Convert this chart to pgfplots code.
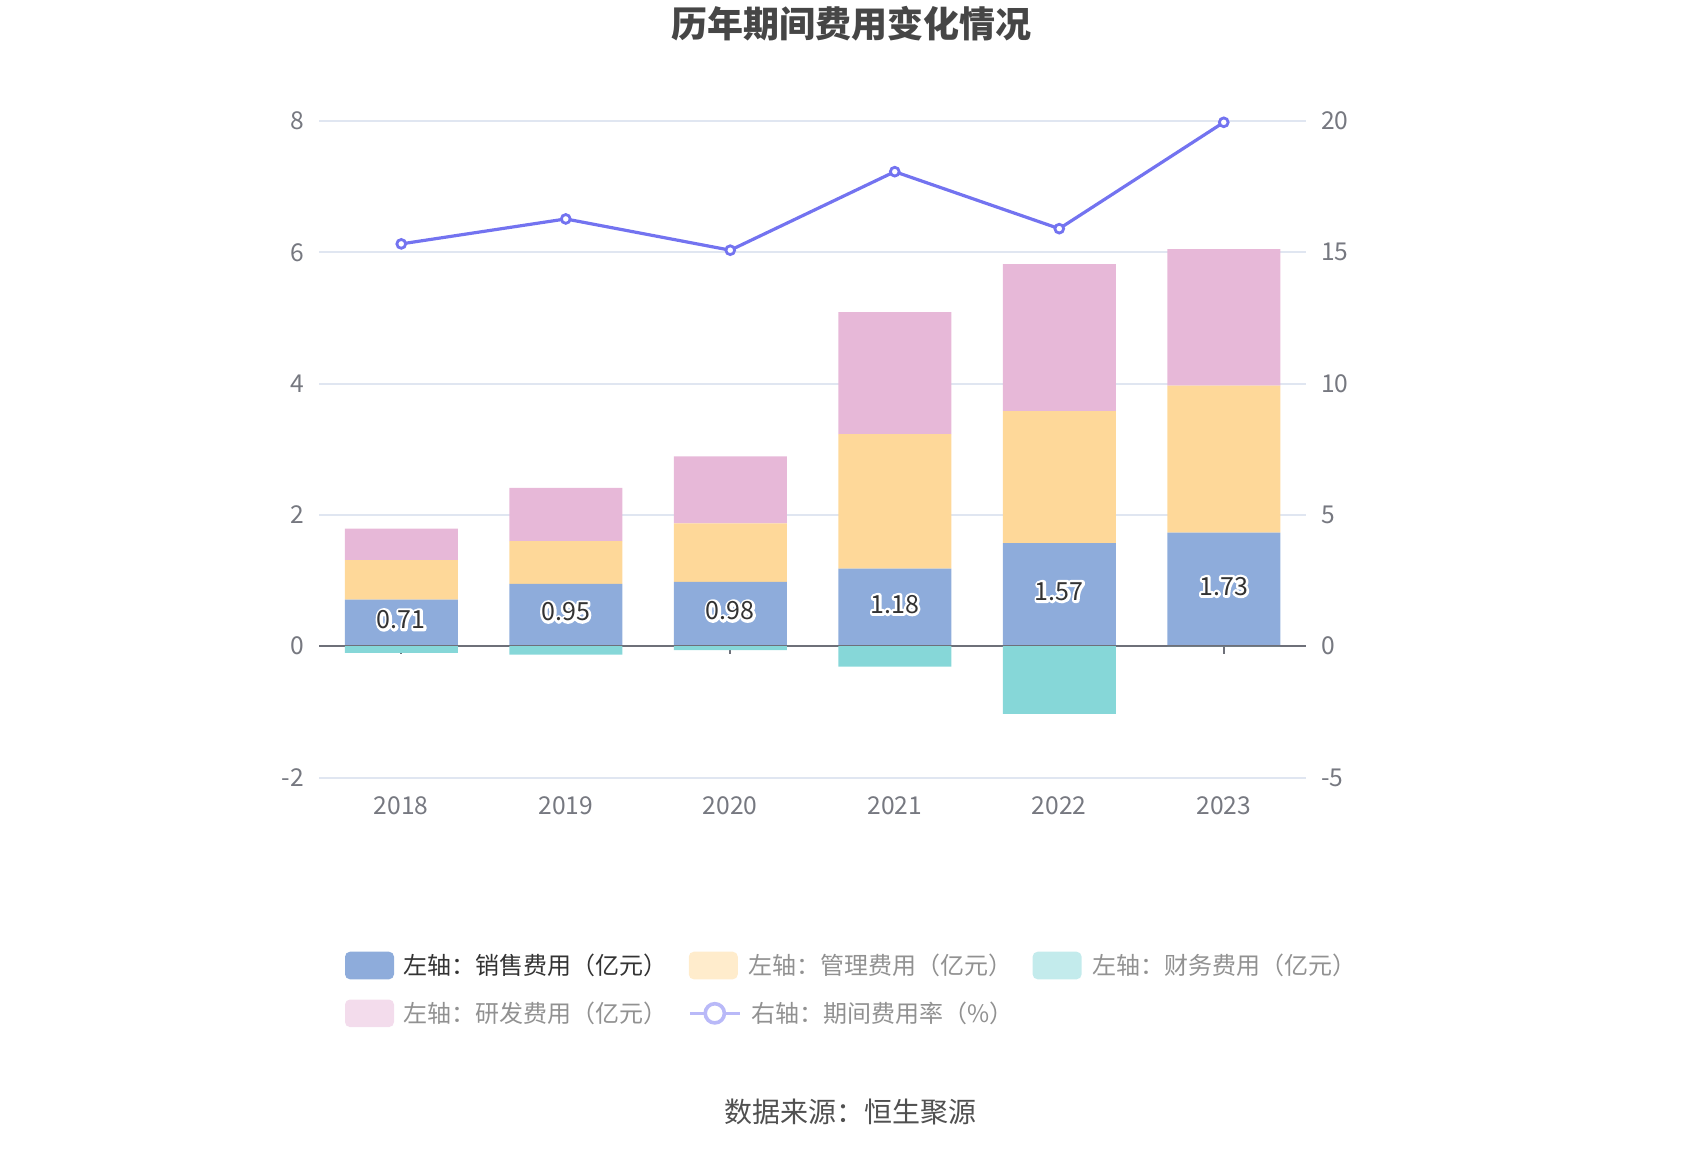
\documentclass[border=0pt]{standalone}
\usepackage{fontspec}
\setmainfont{Noto Sans CJK SC}
\usepackage{pgfplots}
\pgfplotsset{compat=1.18}
\definecolor{cblue}{RGB}{142,172,219}
\definecolor{cyellow}{RGB}{254,216,153}
\definecolor{cpink}{RGB}{231,184,216}
\definecolor{ccyan}{RGB}{134,215,216}
\definecolor{cline}{RGB}{115,115,240}
\definecolor{lyellow}{RGB}{255,236,204}
\definecolor{lpink}{RGB}{243,220,236}
\definecolor{lcyan}{RGB}{195,235,236}
\definecolor{lline}{RGB}{185,185,248}
\definecolor{gridc}{RGB}{224,230,241}
\definecolor{axisc}{RGB}{110,112,121}
\definecolor{tickc}{RGB}{118,120,128}
\definecolor{titlec}{RGB}{70,70,70}
\definecolor{labc}{RGB}{51,51,51}
\definecolor{legdark}{RGB}{51,51,51}
\definecolor{leggray}{RGB}{145,145,145}
\newcommand\halo[1]{\rlap{\special{pdf:literal direct 1 Tr 2.6 w 1 J 1 j 1 1 1 RG}#1\special{pdf:literal direct 0 Tr}}#1}
\begin{document}
\begin{tikzpicture}
\useasboundingbox (0pt,-575pt) rectangle (850pt,0pt);
\pgfplotsset{base/.style={scale only axis, width=493.5pt, height=328.25pt,
  at={(159.5pt,-60.5pt)}, anchor=north west,
  xmin=-0.5, xmax=5.5, ymin=-2, ymax=8, clip=false}}
% main axis: grid, zero line, positive stacked bars
\begin{axis}[base, ybar stacked, bar width=56.5pt,
  axis line style={draw=none},
  ytick={-2,0,2,4,6,8}, ymajorgrids, grid style={gridc, line width=1pt},
  xtick={0,1,2,3,4,5}, xticklabels={2018,2019,2020,2021,2022,2023},
  major tick length=0pt,
  tick label style={font=\fontsize{12.3}{14}\selectfont, text=tickc},
  yticklabel style={xshift=-4pt},
  xticklabel style={yshift=-6pt},
  /pgf/number format/assume math mode=true]
\draw[axisc, line width=1pt] (axis cs:-0.5,0) -- (axis cs:5.5,0);
\pgfplotsinvokeforeach{0,...,5}{\draw[axisc, line width=1pt] (axis cs:#1,0) -- ([yshift=-4pt]axis cs:#1,0);}
\addplot[fill=cblue, draw=none] coordinates {(0,0.71) (1,0.95) (2,0.98) (3,1.18) (4,1.57) (5,1.73)};
\addplot[fill=cyellow, draw=none] coordinates {(0,0.60) (1,0.65) (2,0.89) (3,2.05) (4,2.01) (5,2.24)};
\addplot[fill=cpink, draw=none] coordinates {(0,0.48) (1,0.81) (2,1.02) (3,1.86) (4,2.24) (5,2.08)};
\end{axis}
% finance expense (negative)
\begin{axis}[base, ybar, bar width=56.5pt, bar shift=0pt, hide axis]
\addplot[fill=ccyan, draw=none] coordinates {(0,-0.10) (1,-0.13) (2,-0.06) (3,-0.31) (4,-1.03) (5,0)};
\end{axis}
% right axis: expense ratio
\begin{axis}[base, ymin=-5, ymax=20, hide x axis, axis y line*=right,
  axis line style={draw=none}, ytick={-5,0,5,10,15,20}, major tick length=0pt,
  tick label style={font=\fontsize{12.3}{14}\selectfont, text=tickc},
  yticklabel style={xshift=4pt},
  /pgf/number format/assume math mode=true]
\addplot[cline, line width=1.6pt, mark=*, mark size=2.2pt,
  mark options={fill=white, draw=cline, line width=1.4pt, solid}]
  coordinates {(0,15.32) (1,16.27) (2,15.08) (3,18.07) (4,15.90) (5,19.95)};
\end{axis}
% data labels for sales expense
\begin{axis}[base, hide axis]
\addplot[draw=none, mark=none, point meta=explicit symbolic,
  y filter/.expression={y/2},
  nodes near coords={\halo{\pgfplotspointmeta}},
  every node near coord/.style={anchor=center, yshift=1.5pt, font=\fontsize{12.5}{14}\selectfont, text=labc}]
  coordinates {(0,0.71)[0.71] (1,0.95)[0.95] (2,0.98)[0.98] (3,1.18)[1.18] (4,1.57)[1.57] (5,1.73)[1.73]};
\end{axis}
% title
\node[font=\fontsize{18}{20}\selectfont\bfseries, text=titlec] at (425.5pt,-11.8pt) {历年期间费用变化情况};
% legend
\begin{scope}[font=\fontsize{12}{14}\selectfont]
\fill[cblue, rounded corners=2.5pt] (172.5pt,-475.85pt) rectangle (197pt,-489.65pt);
\node[anchor=west, inner sep=0pt, text=legdark] at (201.7pt,-482.75pt) {左轴：销售费用（亿元）};
\fill[lyellow, rounded corners=2.5pt] (344.4pt,-475.85pt) rectangle (368.9pt,-489.65pt);
\node[anchor=west, inner sep=0pt, text=leggray] at (374.2pt,-482.75pt) {左轴：管理费用（亿元）};
\fill[lcyan, rounded corners=2.5pt] (516.3pt,-475.85pt) rectangle (540.8pt,-489.65pt);
\node[anchor=west, inner sep=0pt, text=leggray] at (546.1pt,-482.75pt) {左轴：财务费用（亿元）};
\fill[lpink, rounded corners=2.5pt] (172.5pt,-499.75pt) rectangle (197pt,-513.55pt);
\node[anchor=west, inner sep=0pt, text=leggray] at (201.7pt,-506.65pt) {左轴：研发费用（亿元）};
\draw[lline, line width=1.8pt] (344.9pt,-506.65pt) -- (369.8pt,-506.65pt);
\draw[lline, line width=1.8pt, fill=white] (357.4pt,-506.65pt) circle (4.8pt);
\node[anchor=west, inner sep=0pt, text=leggray] at (375.3pt,-506.65pt) {右轴：期间费用率（\%）};
\end{scope}
\node[font=\fontsize{14}{16}\selectfont, text={rgb,255:red,80;green,80;blue,80}] at (425pt,-556pt) {数据来源：恒生聚源};
\end{tikzpicture}
\end{document}
